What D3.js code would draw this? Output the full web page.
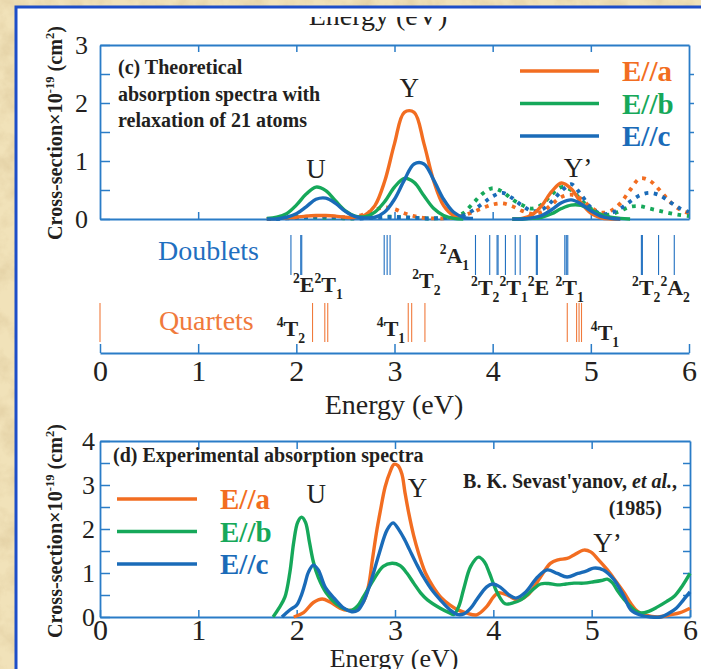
<!DOCTYPE html>
<html>
<head>
<meta charset="utf-8">
<script src="https://cdn.jsdelivr.net/npm/d3@7"></script>
<style>
html, body { margin: 0; padding: 0; overflow: hidden; background: #f0e0b4; }
svg { display: block; }
text { font-family: "Liberation Serif", "Times New Roman", "DejaVu Serif", serif; }
</style>
</head>
<body>
<script>
// ---- theoretical spectra (panel c), grid in eV ----
var thEnergy = [1.7, 1.8, 1.9, 2.0, 2.1, 2.2, 2.3, 2.4, 2.5, 2.6,
                2.7, 2.8, 2.9, 3.0, 3.1, 3.2, 3.3, 3.4, 3.5, 3.6,
                3.7, 3.8, 3.9, 4.0, 4.1, 4.2, 4.3, 4.4, 4.5, 4.6,
                4.7, 4.8, 4.9, 5.0, 5.1, 5.2, 5.3, 5.4, 5.5, 5.6,
                5.7, 5.8, 5.9, 6.0];

// solid lines (null = not drawn)
var thSolidA = [0, 0.01, 0.02, 0.03, 0.05, 0.06, 0.06, 0.05, 0.03, 0.03,
                0.07, 0.23, 0.65, 1.30, 1.84, 1.84, 1.30, 0.65, 0.23, 0.06,
                0.01, null, null, null, null, 0, 0.01, 0.07, 0.23, 0.47,
                0.62, 0.52, 0.28, 0.10, 0.02, 0, 0, null, null, null,
                null, null, null, null];
var thSolidB = [0.01, 0.03, 0.09, 0.24, 0.43, 0.55, 0.49, 0.31, 0.14, 0.05,
                0.04, 0.12, 0.30, 0.55, 0.70, 0.63, 0.40, 0.18, 0.06, 0.01,
                0, null, null, null, null, 0, 0, 0.01, 0.03, 0.09,
                0.18, 0.24, 0.235, 0.16, 0.08, 0.03, 0.01, 0, null, null,
                null, null, null, null];
var thSolidC = [0, 0, 0.03, 0.09, 0.21, 0.34, 0.36, 0.27, 0.13, 0.04,
                0.02, 0.03, 0.12, 0.34, 0.67, 0.95, 0.95, 0.67, 0.34, 0.12,
                0.03, 0.01, null, null, null, 0, 0, 0.02, 0.06, 0.16,
                0.28, 0.33, 0.26, 0.14, 0.05, 0.01, 0, null, null, null,
                null, null, null, null];

// dotted lines
var thDotA = [0, 0.01, 0.02, 0.03, 0.04, 0.05, 0.05, 0.04, 0.03, 0.04,
              0.09, 0.16, 0.2, 0.17, 0.1, 0.05, 0.02, 0.01, 0.01, 0.02,
              0.06, 0.12, 0.19, 0.25, 0.27, 0.22, 0.14, 0.09, 0.12, 0.25,
              0.38, 0.42, 0.35, 0.2, 0.11, 0.14, 0.27, 0.5, 0.7, 0.66,
              0.5, 0.31, 0.17, 0.1];
var thDotB = [0, 0.01, 0.02, 0.03, 0.03, 0.03, 0.02, 0.02, 0.01, 0.01,
              0.02, 0.03, 0.04, 0.04, 0.03, 0.02, 0.01, 0.01, 0.02, 0.04,
              0.1, 0.27, 0.44, 0.53, 0.47, 0.34, 0.24, 0.18, 0.25, 0.42,
              0.55, 0.5, 0.33, 0.18, 0.08, 0.08, 0.14, 0.21, 0.22, 0.18,
              0.14, 0.1, 0.07, 0.05];
var thDotC = [0, 0, 0.01, 0.02, 0.03, 0.04, 0.04, 0.03, 0.02, 0.01,
              0.01, 0.02, 0.03, 0.03, 0.03, 0.02, 0.01, 0.01, 0.02, 0.03,
              0.06, 0.15, 0.27, 0.39, 0.45, 0.36, 0.23, 0.14, 0.16, 0.3,
              0.48, 0.6, 0.42, 0.2, 0.09, 0.1, 0.18, 0.3, 0.41, 0.45,
              0.41, 0.3, 0.19, 0.12];

// energy levels (eV)
var doublets = [1.945, 2.045, 2.055, 2.895, 2.925, 2.955, 3.825, 3.97, 4.045, 4.055,
                4.13, 4.23, 4.28, 4.445, 4.455, 4.735, 4.75, 4.765, 5.515, 5.525,
                5.69, 5.85];
var quartets = [0, 2.165, 2.29, 2.32, 3.14, 3.175, 3.31, 4.76, 4.855, 4.88, 4.905];

// ---- experimental spectra (panel d) ----
var expEnergyA = [1.97, 2.07, 2.17, 2.26, 2.34, 2.44, 2.52, 2.6, 2.68, 2.73,
                  2.77, 2.81, 2.85, 2.9, 2.95, 2.99, 3.03, 3.07, 3.1, 3.14,
                  3.19, 3.24, 3.31, 3.39, 3.47, 3.56, 3.65, 3.73, 3.83, 3.93,
                  4.0, 4.05, 4.14, 4.25, 4.35, 4.48, 4.58, 4.66, 4.75, 4.82,
                  4.92, 4.99, 5.07, 5.16, 5.25, 5.33, 5.4, 5.47, 5.55, 5.67,
                  5.8, 5.9, 6.0];
var expA = [0, 0.1, 0.33, 0.41, 0.34, 0.2, 0.15, 0.18, 0.35, 0.7,
            1.3, 1.9, 2.4, 2.96, 3.3, 3.47, 3.44, 3.25, 2.85, 2.36,
            1.85, 1.45, 1.0, 0.68, 0.44, 0.27, 0.15, 0.09, 0.05, 0.23,
            0.45, 0.55, 0.5, 0.39, 0.5, 0.91, 1.22, 1.3, 1.33, 1.41,
            1.52, 1.48, 1.3, 1.07, 0.8, 0.55, 0.3, 0.12, 0.04, 0,
            0.05, 0.1, 0.2];

var expEnergyB = [1.76, 1.82, 1.88, 1.93, 1.97, 2.01, 2.05, 2.09, 2.13, 2.17,
                  2.22, 2.3, 2.4, 2.5, 2.56, 2.62, 2.68, 2.78, 2.88, 2.97,
                  3.05, 3.12, 3.19, 3.26, 3.33, 3.46, 3.55, 3.6, 3.65, 3.7,
                  3.77, 3.85, 3.91, 3.96, 4.04, 4.12, 4.2, 4.28, 4.38, 4.48,
                  4.56, 4.65, 4.74, 4.82, 4.92, 5.02, 5.1, 5.16, 5.21, 5.26,
                  5.33, 5.4, 5.45, 5.5, 5.58, 5.67, 5.76, 5.84, 5.92, 6.0];
var expB = [0, 0.2, 0.45, 1.0, 1.7, 2.15, 2.27, 2.15, 1.7, 1.25,
            0.9, 0.55, 0.3, 0.17, 0.15, 0.25, 0.46, 0.84, 1.15, 1.22,
            1.17, 1.0, 0.77, 0.55, 0.39, 0.2, 0.1, 0.06, 0.25, 0.65,
            1.15, 1.36, 1.25, 1.0, 0.55, 0.3, 0.32, 0.39, 0.58, 0.75,
            0.76, 0.73, 0.75, 0.77, 0.77, 0.8, 0.83, 0.86, 0.78, 0.61,
            0.4, 0.23, 0.13, 0.09, 0.13, 0.23, 0.35, 0.47, 0.7, 0.99];

var expEnergyC = [1.85, 1.93, 2.0, 2.04, 2.08, 2.12, 2.17, 2.22, 2.29, 2.38,
                  2.48, 2.56, 2.62, 2.68, 2.75, 2.84, 2.92, 2.98, 3.04, 3.1,
                  3.15, 3.22, 3.29, 3.38, 3.46, 3.56, 3.63, 3.7, 3.77, 3.83,
                  3.93, 3.99, 4.07, 4.16, 4.23, 4.33, 4.45, 4.55, 4.65, 4.75,
                  4.86, 4.95, 5.02, 5.12, 5.23, 5.33, 5.4, 5.5, 5.6, 5.7,
                  5.78, 5.86, 5.93, 6.0];
var expC = [0, 0.16, 0.27, 0.45, 0.72, 1.02, 1.18, 1.07, 0.68, 0.43,
            0.2, 0.12, 0.15, 0.35, 0.77, 1.45, 1.98, 2.14, 1.98, 1.75,
            1.52, 1.2, 0.91, 0.6, 0.39, 0.16, 0.06, 0.07, 0.2, 0.39,
            0.68, 0.75, 0.68, 0.5, 0.43, 0.57, 0.91, 1.07, 0.99, 0.91,
            0.99, 1.05, 1.11, 1.07, 0.84, 0.46, 0.16, 0.04, 0, 0,
            0.08, 0.2, 0.38, 0.57];

// ticks and labels
var xTicks = [0, 1, 2, 3, 4, 5, 6];
var yTicksC = [0, 0.5, 1, 1.5, 2, 2.5, 3];
var yTicksD = [0, 0.5, 1, 1.5, 2, 2.5, 3, 3.5, 4];
var seriesNames = ["E//a", "E//b", "E//c"];

var colors = ["#f26d21", "#16a85a", "#1a6bb8"];
var axisColor = "#2a7cc7";
var ink = "#231f20";

var W = 701, H = 669;
var svg = d3.select("body").append("svg").attr("width", W).attr("height", H);
var defs = svg.append("defs");

// parchment background
var paper = defs.append("filter").attr("id", "paper")
    .attr("x", 0).attr("y", 0).attr("width", "100%").attr("height", "100%");
paper.append("feTurbulence").attr("type", "fractalNoise")
    .attr("baseFrequency", "0.045").attr("numOctaves", 4).attr("seed", 7);
paper.append("feColorMatrix").attr("type", "matrix")
    .attr("values", "0 0 0 0 0.62  0 0 0 0 0.47  0 0 0 0 0.24  1.5 0 0 0 -0.6");
svg.append("rect").attr("width", W).attr("height", H).attr("fill", "#f1e2b9");
svg.append("rect").attr("width", W).attr("height", H)
    .attr("filter", "url(#paper)").attr("opacity", 0.55);

// white card with blue border
svg.append("rect").attr("x", 16).attr("y", 7).attr("width", 720).attr("height", 700)
    .attr("fill", "#fff").attr("stroke", "#1d4ec8").attr("stroke-width", 3);

defs.append("clipPath").attr("id", "cardTop")
    .append("rect").attr("x", 18).attr("y", 17).attr("width", 700).attr("height", 40);

var serifStack = '"Liberation Serif", "Times New Roman", "DejaVu Serif", serif';
var intFmt = d3.format("d");

function rich(textSel, parts, size) {
    var off = 0;
    parts.forEach(function (p) {
        var target = p[0] === "sup" ? -0.42 * size : (p[0] === "sub" ? 0.32 * size : 0);
        textSel.append("tspan")
            .attr("dy", target - off)
            .attr("font-size", p[0] === "n" ? size : size * 0.62)
            .text(p[1]);
        off = target;
    });
}

function styleAxis(g) {
    g.selectAll("path.domain").attr("stroke", axisColor).attr("stroke-width", 1.8);
    g.selectAll(".tick line").attr("stroke", axisColor).attr("stroke-width", 1.5);
    g.selectAll(".tick text").attr("fill", ink).attr("font-family", serifStack);
}

function yLabel(cx, cy) {
    var t = svg.append("text")
        .attr("transform", "translate(" + cx + "," + cy + ") rotate(-90)")
        .attr("text-anchor", "middle")
        .attr("font-weight", "bold").attr("font-size", 20).attr("fill", ink)
        .attr("textLength", 214).attr("lengthAdjust", "spacingAndGlyphs");
    rich(t, [["n", "Cross-section"], ["n", "\u00d7"], ["n", "10"], ["sup", "-19"],
             ["n", " (cm"], ["sup", "2"], ["n", ")"]], 20);
}

// ================= panel (c) =================
var xC = d3.scaleLinear().domain([0, 6]).range([100, 689]);
var yC = d3.scaleLinear().domain([0, 3]).range([219, 45]);

// clipped axis title at very top
svg.append("text").attr("clip-path", "url(#cardTop)")
    .attr("x", 378).attr("y", 25).attr("text-anchor", "middle")
    .attr("font-size", 28).attr("fill", ink).text("Energy (eV)");

var gC = svg.append("g");
gC.append("g").attr("transform", "translate(100,0)")
    .call(d3.axisLeft(yC).tickValues(yTicksC).tickSizeInner(-10).tickSizeOuter(0).tickPadding(12)
        .tickFormat(function (d) { return d % 1 === 0 ? intFmt(d) : ""; }))
    .call(styleAxis)
    .selectAll(".tick text").attr("font-size", 26);
gC.append("g").attr("transform", "translate(689,0)")
    .call(d3.axisRight(yC).tickValues(yTicksC.slice(1, 6)).tickSizeInner(5).tickSizeOuter(0).tickFormat(""))
    .call(styleAxis);
gC.append("g").attr("transform", "translate(0,45)")
    .call(d3.axisTop(xC).tickValues([1, 2, 3, 4, 5]).tickSizeInner(-7).tickSizeOuter(0).tickFormat(""))
    .call(styleAxis);
gC.append("g").attr("transform", "translate(0,219)")
    .call(d3.axisBottom(xC).tickValues([1, 2, 3, 4, 5]).tickSizeInner(-7).tickSizeOuter(0).tickFormat(""))
    .call(styleAxis);

var lineC = d3.line()
    .defined(function (d) { return d[1] !== null; })
    .x(function (d) { return xC(d[0]); })
    .y(function (d) { return yC(d[1]); })
    .curve(d3.curveCatmullRom.alpha(0.5));

var dotted = [thDotA, thDotB, thDotC];
var solid = [thSolidA, thSolidB, thSolidC];
dotted.forEach(function (s, i) {
    gC.append("path").datum(d3.zip(thEnergy, s))
        .attr("d", lineC).attr("fill", "none").attr("stroke", colors[i])
        .attr("stroke-width", 3.8).attr("stroke-dasharray", "3.8 5.5");
});
solid.forEach(function (s, i) {
    gC.append("path").datum(d3.zip(thEnergy, s))
        .attr("d", lineC).attr("fill", "none").attr("stroke", colors[i])
        .attr("stroke-width", 3.4).attr("stroke-linejoin", "round");
});

// legend (c)
seriesNames.forEach(function (n, i) {
    var y = 71 + i * 32.5;
    gC.append("line").attr("x1", 520).attr("x2", 599).attr("y1", y).attr("y2", y)
        .attr("stroke", colors[i]).attr("stroke-width", 3.6);
    gC.append("text").attr("x", 622).attr("y", y + 10).attr("font-size", 29)
        .attr("font-weight", "bold").attr("fill", colors[i]).text(n);
});

// panel (c) annotation
["(c) Theoretical", "absorption spectra with", "relaxation of 21 atoms"].forEach(function (s, i) {
    gC.append("text").attr("x", 118).attr("y", 74 + i * 26.5).attr("font-size", 20)
        .attr("font-weight", "bold").attr("fill", ink).text(s);
});
[["U", 2.2, 178], ["Y", 3.15, 97], ["Y\u2019", 4.87, 177]].forEach(function (p) {
    gC.append("text").attr("x", xC(p[1])).attr("y", p[2]).attr("text-anchor", "middle")
        .attr("font-size", 27).attr("fill", ink).text(p[0]);
});

// ---- level strip ----
var gL = svg.append("g");
gL.selectAll("line.dbl").data(doublets).enter().append("line")
    .attr("x1", function (d) { return xC(d); }).attr("x2", function (d) { return xC(d); })
    .attr("y1", 235).attr("y2", 275)
    .attr("stroke", "#1f6fc0").attr("stroke-width", 1.1);
gL.selectAll("line.qrt").data(quartets).enter().append("line")
    .attr("x1", function (d) { return xC(d); }).attr("x2", function (d) { return xC(d); })
    .attr("y1", 303).attr("y2", 342)
    .attr("stroke", "#f07a3c").attr("stroke-width", 1.1);

gL.append("text").attr("x", xC(0.59)).attr("y", 260).attr("font-size", 28)
    .attr("fill", "#1f6fc0").text("Doublets");
gL.append("text").attr("x", xC(0.6)).attr("y", 330).attr("font-size", 28)
    .attr("fill", "#f07a3c").text("Quartets");

var levelLabels = [
    [["sup", "2"], ["n", "E"], ["sup", "2"], ["n", "T"], ["sub", "1"]],
    [["sup", "4"], ["n", "T"], ["sub", "2"]],
    [["sup", "4"], ["n", "T"], ["sub", "1"]],
    [["sup", "2"], ["n", "T"], ["sub", "2"]],
    [["sup", "2"], ["n", "A"], ["sub", "1"]],
    [["sup", "2"], ["n", "T"], ["sub", "2"], ["sup", "2"], ["n", "T"], ["sub", "1"], ["sup", "2"], ["n", "E"]],
    [["sup", "2"], ["n", "T"], ["sub", "1"]],
    [["sup", "4"], ["n", "T"], ["sub", "1"]],
    [["sup", "2"], ["n", "T"], ["sub", "2"], ["sup", "2"], ["n", "A"], ["sub", "2"]]
];
var levelLabelPos = [[1.965, 292], [1.8, 336], [2.82, 336], [3.18, 288], [3.46, 263],
                     [3.78, 295], [4.64, 295], [5.0, 340], [5.42, 295]];
levelLabels.forEach(function (parts, i) {
    var t = gL.append("text").attr("x", xC(levelLabelPos[i][0])).attr("y", levelLabelPos[i][1])
        .attr("font-weight", "bold").attr("fill", ink);
    rich(t, parts, 22);
});

gL.append("g").attr("transform", "translate(0,353)")
    .call(d3.axisBottom(xC).tickValues(xTicks).tickSizeInner(-9).tickSizeOuter(0).tickPadding(7)
        .tickFormat(intFmt))
    .call(styleAxis)
    .selectAll(".tick text").attr("font-size", 30);
gL.append("text").attr("x", 394).attr("y", 414).attr("text-anchor", "middle")
    .attr("font-size", 28).attr("fill", ink).text("Energy (eV)");

yLabel(62, 133);

// ================= panel (d) =================
var xD = d3.scaleLinear().domain([0, 6]).range([100, 690]);
var yD = d3.scaleLinear().domain([0, 4]).range([617, 441]);
var gD = svg.append("g");

gD.append("g").attr("transform", "translate(100,0)")
    .call(d3.axisLeft(yD).tickValues(yTicksD).tickSizeInner(-10).tickSizeOuter(0).tickPadding(5)
        .tickFormat(function (d) { return d % 1 === 0 ? intFmt(d) : ""; }))
    .call(styleAxis)
    .selectAll(".tick text").attr("font-size", 26);
gD.append("g").attr("transform", "translate(690,0)")
    .call(d3.axisRight(yD).tickValues(yTicksD.slice(1, 8)).tickSizeInner(-7).tickSizeOuter(0).tickFormat(""))
    .call(styleAxis);
gD.append("g").attr("transform", "translate(0,441)")
    .call(d3.axisTop(xD).tickValues([1, 2, 3, 4, 5]).tickSizeInner(-8).tickSizeOuter(0).tickFormat(""))
    .call(styleAxis);
gD.append("g").attr("transform", "translate(0,617)")
    .call(d3.axisBottom(xD).tickValues(xTicks).tickSizeInner(-7).tickSizeOuter(0).tickPadding(2)
        .tickFormat(intFmt))
    .call(styleAxis)
    .selectAll(".tick text").attr("font-size", 30);

var lineD = d3.line()
    .x(function (d) { return xD(d[0]); })
    .y(function (d) { return yD(d[1]); })
    .curve(d3.curveCatmullRom.alpha(0.5));

[[expEnergyA, expA], [expEnergyB, expB], [expEnergyC, expC]].forEach(function (s, i) {
    gD.append("path").datum(d3.zip(s[0], s[1]))
        .attr("d", lineD).attr("fill", "none").attr("stroke", colors[i])
        .attr("stroke-width", 3.4).attr("stroke-linejoin", "round");
});

seriesNames.forEach(function (n, i) {
    var y = 499 + i * 32.5;
    gD.append("line").attr("x1", 117).attr("x2", 197).attr("y1", y).attr("y2", y)
        .attr("stroke", colors[i]).attr("stroke-width", 3.6);
    gD.append("text").attr("x", 220).attr("y", y + 10).attr("font-size", 29)
        .attr("font-weight", "bold").attr("fill", colors[i]).text(n);
});

gD.append("text").attr("x", 113).attr("y", 462).attr("font-size", 20)
    .attr("font-weight", "bold").attr("fill", ink).text("(d) Experimental absorption spectra");
var ref = gD.append("text").attr("x", 677).attr("y", 488).attr("text-anchor", "end")
    .attr("font-size", 20).attr("font-weight", "bold").attr("fill", ink);
ref.append("tspan").text("B. K. Sevast'yanov, ");
ref.append("tspan").attr("font-style", "italic").text("et al.");
ref.append("tspan").text(",");
gD.append("text").attr("x", 662).attr("y", 515).attr("text-anchor", "end")
    .attr("font-size", 20).attr("font-weight", "bold").attr("fill", ink).text("(1985)");

[["U", 2.2, 503], ["Y", 3.23, 497], ["Y\u2019", 5.16, 552]].forEach(function (p) {
    gD.append("text").attr("x", xD(p[1])).attr("y", p[2]).attr("text-anchor", "middle")
        .attr("font-size", 27).attr("fill", ink).text(p[0]);
});

gD.append("text").attr("x", 394).attr("y", 667).attr("text-anchor", "middle")
    .attr("font-size", 26).attr("fill", ink).text("Energy (eV)");

yLabel(62, 531);
</script>
</body>
</html>
